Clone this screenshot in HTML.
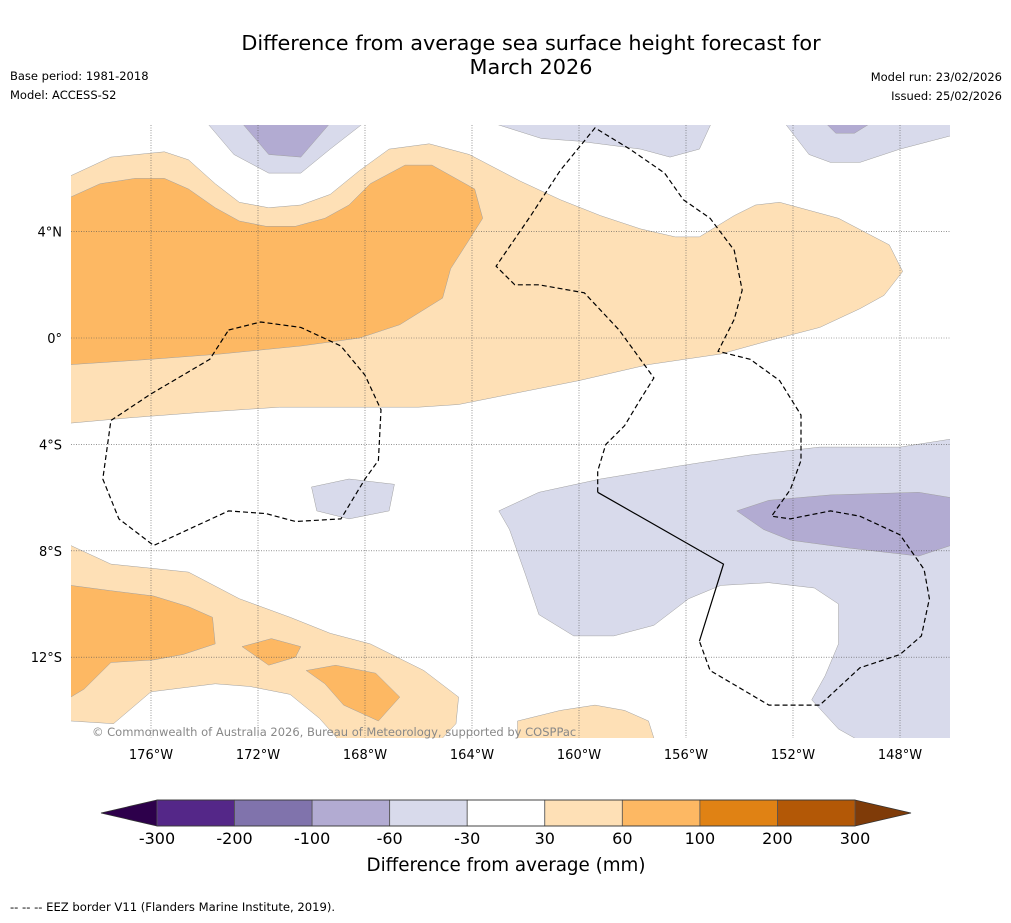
<!DOCTYPE html>
<html><head><meta charset="utf-8">
<style>
html,body{margin:0;padding:0;background:#fff;}
body{width:1011px;height:919px;overflow:hidden;font-family:"DejaVu Sans","Liberation Sans",sans-serif;}
svg text{font-family:"DejaVu Sans","Liberation Sans",sans-serif;}
</style></head>
<body>
<svg id="chart" width="1011" height="919" viewBox="0 0 1011 919" xmlns="http://www.w3.org/2000/svg">
<text x="531" y="50" font-size="20.8" text-anchor="middle" fill="#000">Difference from average sea surface height forecast for</text>
<text x="531" y="74" font-size="20.8" text-anchor="middle" fill="#000">March 2026</text>
<text x="10" y="80" font-size="11.5">Base period: 1981-2018</text>
<text x="10" y="99" font-size="11.5">Model: ACCESS-S2</text>
<text x="1002" y="81" font-size="11.5" text-anchor="end">Model run: 23/02/2026</text>
<text x="1002" y="100" font-size="11.5" text-anchor="end">Issued: 25/02/2026</text>
<defs><clipPath id="mapclip"><rect x="71" y="125" width="879" height="613"/></clipPath></defs>
<g id="map" clip-path="url(#mapclip)"></g>
<g id="grid"></g>
<g id="eez" clip-path="url(#mapclip)"></g>
<text x="92" y="736" font-size="11.5" fill="#888">© Commonwealth of Australia 2026, Bureau of Meteorology, supported by COSPPac</text>
<g id="axes"></g>
<g id="cbar"></g>
<text x="506" y="871" font-size="18.3" text-anchor="middle">Difference from average (mm)</text>
<text x="10" y="911" font-size="11.6">--  --  -- EEZ border V11 (Flanders Marine Institute, 2019).</text>
</svg>
<script>
// colorbar data
const levels=[-300,-200,-100,-60,-30,30,60,100,200,300];
const levelColors=['#542788','#8073ac','#b2abd2','#d8daeb','#ffffff','#fee0b6','#fdb863','#e08214','#b35806'];
const lonTicks=[-176,-172,-168,-164,-160,-156,-152,-148];
const latTicks=[8,4,0,-4,-8,-12];
const latLabels=['','4°N','0°','4°S','8°S','12°S'];
// contour regions [lon,lat]; cls: index into levelColors
const regionLightOrangeN=[[-179,6.1],[-177.5,6.8],[-175.5,7.0],[-174.6,6.7],[-173.6,5.8],[-172.7,5.1],[-171.6,4.9],[-170.4,5.0],[-169.3,5.4],[-168.2,6.3],[-167.1,7.1],[-165.6,7.3],[-164.1,6.9],[-162.2,5.9],[-160.7,5.2],[-159.2,4.6],[-157.7,4.1],[-156.4,3.8],[-155.5,3.8],[-154.2,4.6],[-153.4,5.0],[-152.5,5.1],[-150.3,4.5],[-148.4,3.5],[-147.9,2.5],[-148.6,1.6],[-149.5,1.1],[-151.0,0.4],[-152.9,-0.1],[-154.7,-0.6],[-157.4,-1.0],[-160.0,-1.6],[-163.0,-2.2],[-164.5,-2.5],[-166.0,-2.6],[-168.6,-2.6],[-171.2,-2.6],[-174.2,-2.8],[-176.8,-3.0],[-179,-3.2],[-180,-3.2],[-180,6.1]];
const regionOrangeN=[[-180,5.3],[-179,5.3],[-177.9,5.8],[-176.6,6.0],[-175.5,6.0],[-174.6,5.6],[-173.6,4.9],[-172.7,4.4],[-171.7,4.2],[-170.6,4.2],[-169.5,4.5],[-168.6,5.0],[-167.8,5.8],[-166.5,6.5],[-165.5,6.5],[-163.9,5.6],[-163.6,4.5],[-164.1,3.7],[-164.8,2.6],[-165.1,1.5],[-166.7,0.5],[-168.2,0.0],[-170.4,-0.3],[-173.4,-0.6],[-176.0,-0.8],[-179,-1.0],[-180,-1.0]];
const regionPurpleTL=[[-174.0,8.2],[-172.9,6.9],[-171.6,6.2],[-170.4,6.2],[-169.3,7.1],[-167.9,8.2]];
const regionPurpleTL2=[[-172.7,8.2],[-171.6,6.9],[-170.4,6.8],[-169.2,8.2]];
const regionPurpleTM=[[-163.6,8.2],[-161.4,7.5],[-160.0,7.4],[-157.7,7.1],[-156.6,6.8],[-155.5,7.1],[-155.0,8.2]];
const regionPurpleTR=[[-152.4,8.2],[-151.4,6.9],[-150.6,6.6],[-149.5,6.6],[-148.0,7.1],[-146.1,7.6],[-145,7.6],[-145,8.2]];
const regionPurpleTR2=[[-150.9,8.2],[-150.4,7.7],[-149.7,7.7],[-148.9,8.2]];
const regionPurpleBlob=[[-170.0,-5.6],[-168.6,-5.3],[-166.9,-5.5],[-167.1,-6.5],[-168.6,-6.8],[-169.8,-6.5]];
const regionPurpleSE=[[-163.0,-6.5],[-161.5,-5.8],[-159.2,-5.3],[-156.2,-4.8],[-153.6,-4.4],[-151.0,-4.1],[-148.0,-4.1],[-146.1,-3.8],[-145,-3.8],[-145,-16],[-148.0,-16],[-150.3,-14.7],[-151.3,-13.6],[-150.8,-12.7],[-150.3,-11.5],[-150.3,-10.0],[-151.2,-9.4],[-152.9,-9.2],[-154.7,-9.3],[-155.9,-9.8],[-157.2,-10.8],[-158.7,-11.2],[-160.2,-11.2],[-161.5,-10.4],[-162.0,-8.9],[-162.6,-7.2]];
const regionPurpleSE2=[[-154.1,-6.5],[-152.9,-6.1],[-150.6,-5.9],[-147.3,-5.8],[-146.1,-6.0],[-145,-6.0],[-145,-7.8],[-146.1,-7.8],[-147.3,-8.2],[-149.9,-7.9],[-152.1,-7.6],[-153.1,-7.2]];
const regionLightOrangeSW=[[-180,-7.8],[-179,-7.8],[-177.5,-8.5],[-174.6,-8.8],[-172.7,-9.8],[-170.8,-10.5],[-169.3,-11.1],[-167.8,-11.5],[-165.8,-12.5],[-164.5,-13.5],[-164.6,-14.5],[-166.0,-16],[-168.2,-16],[-169.7,-14.3],[-170.8,-13.4],[-172.3,-13.1],[-173.6,-13.0],[-176.0,-13.3],[-177.4,-14.5],[-179,-14.4],[-180,-14.4]];
const regionOrangeSW=[[-180,-9.3],[-179,-9.3],[-177.5,-9.5],[-175.9,-9.7],[-174.6,-10.1],[-173.7,-10.5],[-173.6,-11.5],[-174.8,-11.9],[-175.9,-12.1],[-177.5,-12.2],[-178.5,-13.2],[-179,-13.5],[-180,-13.5]];
const regionOrangeS1=[[-172.6,-11.6],[-171.5,-11.3],[-170.4,-11.6],[-170.6,-12.0],[-171.6,-12.3]];
const regionOrangeS2=[[-170.2,-12.5],[-169.1,-12.3],[-167.6,-12.6],[-166.7,-13.5],[-167.5,-14.4],[-168.8,-13.8],[-169.5,-13.0]];
const regionLightOrangeS=[[-162.3,-14.4],[-160.7,-14.0],[-159.4,-13.8],[-158.3,-14.0],[-157.4,-14.4],[-156.9,-16],[-162.3,-16]];
const regions=[
 [regionLightOrangeN,5],[regionOrangeN,6],[regionPurpleTL,3],[regionPurpleTL2,2],[regionPurpleTM,3],
 [regionPurpleTR,3],[regionPurpleTR2,2],[regionPurpleBlob,3],[regionPurpleSE,3],[regionPurpleSE2,2],
 [regionLightOrangeSW,5],[regionOrangeSW,6],[regionOrangeS1,6],[regionOrangeS2,6],[regionLightOrangeS,5]];
// EEZ borders
const eezWest=[[-173.1,0.3],[-171.9,0.6],[-170.4,0.4],[-168.9,-0.3],[-168.0,-1.4],[-167.4,-2.7],[-167.5,-4.6],[-168.0,-5.3],[-168.9,-6.8],[-170.6,-6.9],[-171.7,-6.6],[-173.1,-6.5],[-175.9,-7.8],[-177.2,-6.8],[-177.8,-5.3],[-177.5,-3.1],[-176.0,-2.1],[-173.8,-0.8],[-173.1,0.3]];
const eezEast=[[-159.3,-5.8],[-159.3,-5.0],[-159.0,-4.0],[-158.3,-3.3],[-157.7,-2.3],[-157.2,-1.5],[-158.5,0.3],[-159.8,1.7],[-161.5,2.0],[-162.4,2.0],[-163.1,2.7],[-161.8,4.6],[-160.7,6.3],[-159.4,7.9],[-158.1,7.1],[-156.8,6.2],[-156.1,5.2],[-155.1,4.5],[-154.2,3.3],[-153.9,1.8],[-154.2,0.7],[-154.8,-0.5],[-153.6,-0.8],[-152.5,-1.6],[-151.7,-2.9],[-151.7,-4.6],[-152.1,-5.7],[-152.8,-6.7],[-152.1,-6.8],[-151.6,-6.7],[-150.6,-6.5],[-149.5,-6.7],[-148.0,-7.4],[-147.1,-8.7],[-146.9,-9.8],[-147.2,-11.2],[-148.0,-11.9],[-149.5,-12.4],[-151.0,-13.8],[-152.9,-13.8],[-155.1,-12.5],[-155.5,-11.4]];
const eezSolid=[[-159.3,-5.8],[-154.6,-8.5],[-155.5,-11.4]];

const NS='http://www.w3.org/2000/svg';
const X=lon=>151+(lon+176)*26.75;
const Y=lat=>338-lat*26.6;
function mk(tag,attrs,parent){const e=document.createElementNS(NS,tag);for(const k in attrs)e.setAttribute(k,attrs[k]);parent.appendChild(e);return e;}
const pts=a=>a.map(p=>X(p[0]).toFixed(1)+','+Y(p[1]).toFixed(1)).join(' ');

const map=document.getElementById('map');
regions.forEach((r,i)=>{
 const p=mk('polygon',{points:pts(r[0]),fill:levelColors[r[1]],stroke:'#a0a0a0','stroke-width':0.5},map);
 
 
});

const grid=document.getElementById('grid');
lonTicks.forEach(l=>{
 const ln=mk('line',{x1:X(l),x2:X(l),y1:125,y2:738,stroke:'#555','stroke-width':0.6,'stroke-dasharray':'1,1.5'},grid);
 
 
});
latTicks.forEach(l=>{
 if(Y(l)<126)return;
 const ln=mk('line',{x1:71,x2:950,y1:Y(l),y2:Y(l),stroke:'#555','stroke-width':0.6,'stroke-dasharray':'1,1.5'},grid);
 
 
});

const eez=document.getElementById('eez');
[eezWest,eezEast].forEach(a=>{
 const l=mk('polyline',{points:pts(a),fill:'none',stroke:'#000','stroke-width':1.2,'stroke-dasharray':'5,3'},eez);
 
 
});
const sl=mk('polyline',{points:pts(eezSolid),fill:'none',stroke:'#000','stroke-width':1.2},eez);



const axes=document.getElementById('axes');
lonTicks.forEach(l=>{
 const t=mk('text',{x:X(l),y:759,'font-size':13,'text-anchor':'middle'},axes);
 t.textContent=Math.abs(l)+'°W';
 
 
});
latTicks.forEach((l,i)=>{
 if(!latLabels[i])return;
 const t=mk('text',{x:62,y:Y(l)+5,'font-size':13,'text-anchor':'end'},axes);
 t.textContent=latLabels[i];
 
 
});

const cb=document.getElementById('cbar');
const cx0=157,cx1=855,cy0=800,cy1=826;
const bw=(cx1-cx0)/(levels.length-1);
const lt=mk('polygon',{points:`${cx0},${cy0} ${cx0},${cy1} 101,813`,fill:'#2d004b'},cb);


const rt=mk('polygon',{points:`${cx1},${cy0} ${cx1},${cy1} 911,813`,fill:'#7f3b08'},cb);


levelColors.forEach((c,i)=>{
 const r=mk('rect',{x:cx0+i*bw,y:cy0,width:bw,height:cy1-cy0,fill:c,stroke:'#555','stroke-width':0.8},cb);
 
 
});
const ol=mk('polygon',{points:`101,813 ${cx0},${cy0} ${cx1},${cy0} 911,813 ${cx1},${cy1} ${cx0},${cy1}`,fill:'none',stroke:'#333','stroke-width':0.8},cb);


levels.forEach((v,i)=>{
 const t=mk('text',{x:cx0+i*bw,y:844,'font-size':16,'text-anchor':'middle'},cb);
 t.textContent=v;
 
 
});
</script>
</body></html>
